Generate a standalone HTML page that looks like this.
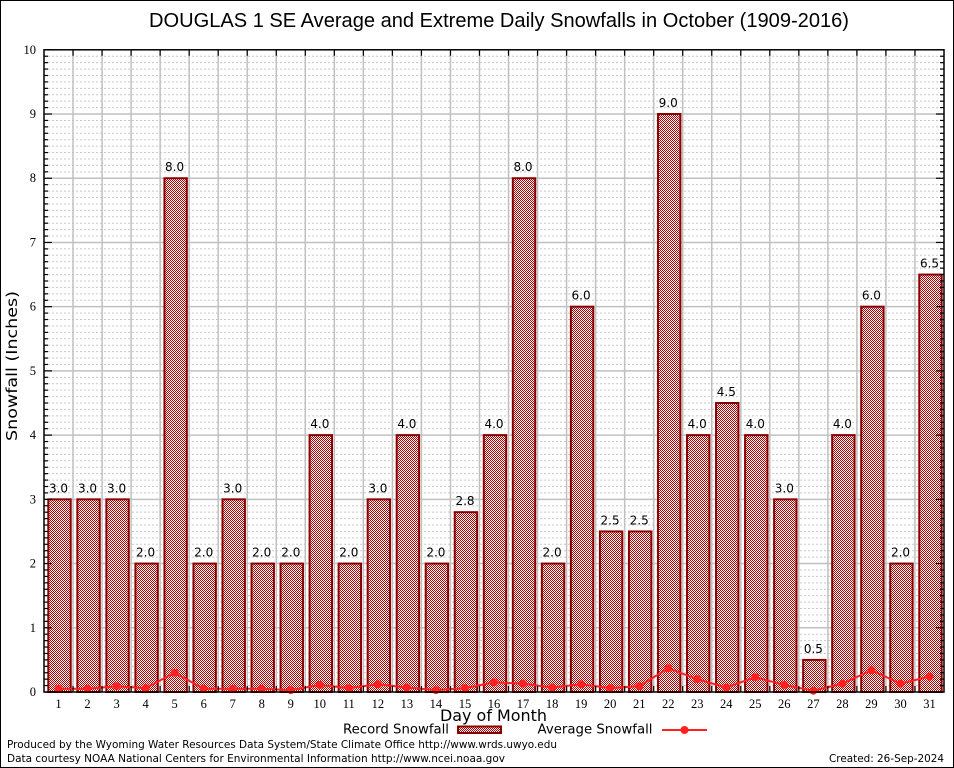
<!DOCTYPE html>
<html><head><meta charset="utf-8">
<style>
html,body{margin:0;padding:0;background:#fff;}
svg{display:block;}
.tk{font-family:"Liberation Serif",serif;font-size:12.5px;fill:#000;}
.vl{font-family:"DejaVu Sans",sans-serif;font-size:12px;fill:#000;}
.ft{font-family:"DejaVu Sans",sans-serif;font-size:11px;fill:#000;}
</style></head>
<body>
<svg id="s" width="954" height="768" viewBox="0 0 954 768" xmlns="http://www.w3.org/2000/svg">
<defs>
<pattern id="chk" width="2" height="2" patternUnits="userSpaceOnUse">
<rect width="2" height="2" fill="#ffffff"/>
<rect width="1" height="1" fill="#b00000"/>
<rect x="1" y="1" width="1" height="1" fill="#b00000"/>
</pattern>
</defs>
<rect x="0.5" y="0.5" width="953" height="767" fill="#fff" stroke="#000" stroke-width="1"/>
<g id="grid"></g>
<g id="bars"></g>
<g id="avg"></g>
<g id="axes"></g>

<text x="149" y="27" font-family="Liberation Sans, sans-serif" font-size="20" textLength="700" lengthAdjust="spacingAndGlyphs">DOUGLAS 1 SE Average and Extreme Daily Snowfalls in October (1909-2016)</text>

<text transform="translate(17,366) rotate(-90)" text-anchor="middle" font-family="DejaVu Sans, sans-serif" font-size="15" textLength="150" lengthAdjust="spacingAndGlyphs">Snowfall (Inches)</text>
<text x="493.5" y="721" text-anchor="middle" font-family="DejaVu Sans, sans-serif" font-size="16" textLength="107" lengthAdjust="spacingAndGlyphs">Day of Month</text>

<g class="tk" text-anchor="end">
<text x="36" y="696">0</text>
<text x="36" y="631.8">1</text>
<text x="36" y="567.6">2</text>
<text x="36" y="503.3">3</text>
<text x="36" y="439.1">4</text>
<text x="36" y="374.9">5</text>
<text x="36" y="310.7">6</text>
<text x="36" y="246.5">7</text>
<text x="36" y="182.2">8</text>
<text x="36" y="118">9</text>
<text x="36" y="53.8">10</text>
</g>

<g class="tk" text-anchor="middle">
<text x="58.5" y="708">1</text>
<text x="87.5" y="708">2</text>
<text x="116.6" y="708">3</text>
<text x="145.6" y="708">4</text>
<text x="174.6" y="708">5</text>
<text x="203.7" y="708">6</text>
<text x="232.7" y="708">7</text>
<text x="261.7" y="708">8</text>
<text x="290.8" y="708">9</text>
<text x="319.8" y="708">10</text>
<text x="348.8" y="708">11</text>
<text x="377.9" y="708">12</text>
<text x="406.9" y="708">13</text>
<text x="435.9" y="708">14</text>
<text x="465" y="708">15</text>
<text x="494" y="708">16</text>
<text x="523" y="708">17</text>
<text x="552.1" y="708">18</text>
<text x="581.1" y="708">19</text>
<text x="610.1" y="708">20</text>
<text x="639.2" y="708">21</text>
<text x="668.2" y="708">22</text>
<text x="697.2" y="708">23</text>
<text x="726.3" y="708">24</text>
<text x="755.3" y="708">25</text>
<text x="784.3" y="708">26</text>
<text x="813.4" y="708">27</text>
<text x="842.4" y="708">28</text>
<text x="871.4" y="708">29</text>
<text x="900.5" y="708">30</text>
<text x="929.5" y="708">31</text>
</g>

<g class="vl" text-anchor="middle">
<text x="58.5" y="492.3">3.0</text>
<text x="87.5" y="492.3">3.0</text>
<text x="116.6" y="492.3">3.0</text>
<text x="145.6" y="556.6">2.0</text>
<text x="174.6" y="171.2">8.0</text>
<text x="203.7" y="556.6">2.0</text>
<text x="232.7" y="492.3">3.0</text>
<text x="261.7" y="556.6">2.0</text>
<text x="290.8" y="556.6">2.0</text>
<text x="319.8" y="428.1">4.0</text>
<text x="348.8" y="556.6">2.0</text>
<text x="377.9" y="492.3">3.0</text>
<text x="406.9" y="428.1">4.0</text>
<text x="435.9" y="556.6">2.0</text>
<text x="465" y="505.2">2.8</text>
<text x="494" y="428.1">4.0</text>
<text x="523" y="171.2">8.0</text>
<text x="552.1" y="556.6">2.0</text>
<text x="581.1" y="299.7">6.0</text>
<text x="610.1" y="524.5">2.5</text>
<text x="639.2" y="524.5">2.5</text>
<text x="668.2" y="107">9.0</text>
<text x="697.2" y="428.1">4.0</text>
<text x="726.3" y="396">4.5</text>
<text x="755.3" y="428.1">4.0</text>
<text x="784.3" y="492.3">3.0</text>
<text x="813.4" y="652.9">0.5</text>
<text x="842.4" y="428.1">4.0</text>
<text x="871.4" y="299.7">6.0</text>
<text x="900.5" y="556.6">2.0</text>
<text x="929.5" y="267.6">6.5</text>
</g>

<text x="343" y="733.5" font-family="DejaVu Sans, sans-serif" font-size="13.5" textLength="106" lengthAdjust="spacingAndGlyphs">Record Snowfall</text>
<rect x="458" y="726.5" width="43" height="6.5" fill="url(#chk)" stroke="#8b0000" stroke-width="2"/>
<text x="537.5" y="733.5" font-family="DejaVu Sans, sans-serif" font-size="13.5" textLength="115" lengthAdjust="spacingAndGlyphs">Average Snowfall</text>
<line x1="662" y1="730" x2="707" y2="730" stroke="#ff2020" stroke-width="2"/>
<circle cx="684.5" cy="730" r="4" fill="#ff2020"/>

<text class="ft" x="7" y="748" textLength="550" lengthAdjust="spacingAndGlyphs">Produced by the Wyoming Water Resources Data System/State Climate Office http://www.wrds.uwyo.edu</text>
<text class="ft" x="7" y="762" textLength="498" lengthAdjust="spacingAndGlyphs">Data courtesy NOAA National Centers for Environmental Information http://www.ncei.noaa.gov</text>
<text class="ft" x="944" y="762" text-anchor="end" textLength="115" lengthAdjust="spacingAndGlyphs">Created: 26-Sep-2024</text>
</svg>
<script>
(function(){
var NS="http://www.w3.org/2000/svg";
function el(p,t,a){var e=document.createElementNS(NS,t);for(var k in a)e.setAttribute(k,a[k]);p.appendChild(e);return e;}
var L=44,R=944,T=49.8,B=692,S=(B-T)/10,cw=(R-L)/31;
function y(v){return B-v*S;}
var g=document.getElementById('grid');
for(var i=0;i<100;i++){ if(i%10===0)continue; var yy=y(i/10);
 el(g,'line',{x1:L,x2:R,y1:yy,y2:yy,stroke:'#c8c8c8','stroke-width':1,'stroke-dasharray':'2,2'});}
for(var k=1;k<10;k++){var yy=y(k);el(g,'line',{x1:L,x2:R,y1:yy,y2:yy,stroke:'#c0c0c0','stroke-width':1.5});}
for(var d=1;d<31;d++){var xx=L+cw*d;el(g,'line',{x1:xx,x2:xx,y1:T,y2:B,stroke:'#c0c0c0','stroke-width':1.5});}
var rec=[3,3,3,2,8,2,3,2,2,4,2,3,4,2,2.8,4,8,2,6,2.5,2.5,9,4,4.5,4,3,0.5,4,6,2,6.5];
var bg=document.getElementById('bars');
for(var d=0;d<31;d++){var x0=L+cw*d+4.3;var yt=y(rec[d]);
 el(bg,'rect',{x:x0,y:yt,width:22.4,height:B-yt,fill:'url(#chk)',stroke:'#8b0000','stroke-width':2});}
var av=[0.05,0.05,0.09,0.06,0.30,0.05,0.05,0.05,0.03,0.11,0.06,0.12,0.07,0.03,0.06,0.15,0.13,0.07,0.12,0.06,0.09,0.37,0.20,0.07,0.23,0.11,0.02,0.13,0.34,0.13,0.24];
var ag=document.getElementById('avg');var pts=[];
for(var d=0;d<31;d++){pts.push((L+cw*(d+0.5)).toFixed(2)+','+y(av[d]).toFixed(2));}
el(ag,'polyline',{points:pts.join(' '),fill:'none',stroke:'#ff2020','stroke-width':2});
for(var d=0;d<31;d++){el(ag,'circle',{cx:L+cw*(d+0.5),cy:y(av[d]),r:4,fill:'#ff2020'});}
var ax=document.getElementById('axes');
for(var i=0;i<=100;i++){var yy=y(i/10);var len=(i%10===0)?8:4;
 el(ax,'line',{x1:L,x2:L+len,y1:yy,y2:yy,stroke:'#000','stroke-width':1.2});
 el(ax,'line',{x1:R-len,x2:R,y1:yy,y2:yy,stroke:'#000','stroke-width':1.2});}
for(var d=1;d<31;d++){var xx=L+cw*d;
 el(ax,'line',{x1:xx,x2:xx,y1:T,y2:T+6,stroke:'#000','stroke-width':1.2});
 el(ax,'line',{x1:xx,x2:xx,y1:B-6,y2:B,stroke:'#000','stroke-width':1.2});}
el(ax,'rect',{x:L,y:T,width:R-L,height:B-T,fill:'none',stroke:'#000','stroke-width':1.5});
})();
</script>
</body></html>
